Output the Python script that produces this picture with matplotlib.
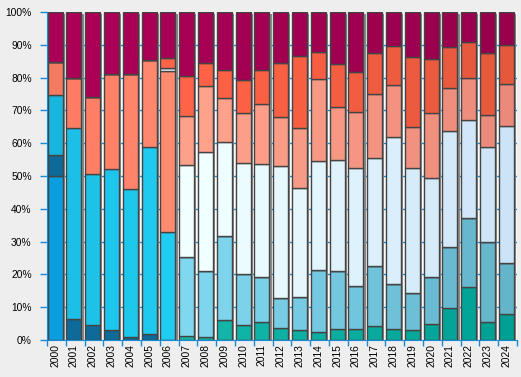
import numpy as np
import matplotlib
matplotlib.use("Agg")
import matplotlib.pyplot as plt
from matplotlib.colors import to_rgb

years = [str(y) for y in range(2000, 2025)]

# shares in percent, bottom to top
s_blue = [50.0] + [0] * 24
s_dark = [6.4, 6.3, 4.5, 3.0, 0.9, 1.7, 0.0, 1.2, 0.8, 6.0, 4.5, 5.4, 3.6,
          3.0, 2.3, 3.3, 3.3, 4.2, 3.3, 3.0, 4.8, 9.7, 16.1, 5.4, 7.8]
s_cyan = [18.3, 58.2, 46.0, 49.0, 45.2, 57.0, 32.8, 24.0, 20.1, 25.6, 15.5,
          13.7, 9.1, 10.0, 18.9, 17.6, 13.1, 18.3, 13.7, 11.2, 14.3, 18.6,
          21.0, 24.4, 15.6]
s_salmon = [10.2, 15.3, 23.7, 29.0, 34.9, 26.8, 49.1] + [0] * 18
s_white = [0, 0, 0, 0, 0, 0, 0.9, 28.1, 36.3, 28.7, 33.9, 34.5, 40.2, 33.2,
           33.3, 33.9, 35.9, 32.9, 44.8, 38.1, 30.2, 35.3, 29.9, 28.9, 41.8]
s_light = [0, 0, 0, 0, 0, 0, 0, 15.1, 20.1, 13.4, 15.2, 18.2, 15.0, 18.3,
           25.2, 16.1, 17.1, 19.5, 15.8, 12.5, 19.8, 13.1, 12.8, 9.8, 13.0]
s_orange = [0, 0, 0, 0, 0, 0, 3.3, 12.2, 7.1, 8.5, 10.1, 10.4, 16.5, 22.2,
            8.2, 13.3, 12.2, 12.5, 11.9, 21.4, 16.5, 12.5, 11.0, 18.9, 11.6]
s_magenta = [15.2, 20.2, 25.8, 19.0, 19.0, 14.5, 13.9, 19.4, 15.6, 17.8, 20.8,
             17.8, 15.6, 13.3, 12.1, 15.8, 18.4, 12.6, 10.5, 13.8, 14.4, 10.8,
             9.2, 12.6, 10.2]


def ramp(c0, c1, n):
    a, b = np.array(to_rgb(c0)), np.array(to_rgb(c1))
    return [tuple(a + (b - a) * t) for t in np.linspace(0, 1, n)]


n = len(years)
c_blue = ['#0a9ee0'] * n
c_dark = ['#0e6a98'] * 7 + ramp('#14b8aa', '#00a194', 18)
c_cyan = ['#18b6de'] + ramp('#1cc0e6', '#20ccf0', 6) + ramp('#80d8f0', '#64b4ca', 18)
c_salmon = ['#f47a62'] + ramp('#ff7c64', '#ff8a70', 6) + ['#ff8a70'] * 18
c_white = ramp('#f2ffff', '#f2ffff', 8) + ramp('#f0ffff', '#cce4f8', 17)
c_light = ['#ffa08a'] * 8 + ramp('#ffa28c', '#ea8a7a', 17)
c_orange = ['#ff6448'] * 8 + ramp('#ff6246', '#e4583c', 17)
c_magenta = ['#aa0055'] + ramp('#ac0056', '#98004c', 24)

series = [(s_blue, c_blue), (s_dark, c_dark), (s_cyan, c_cyan),
          (s_salmon, c_salmon), (s_white, c_white), (s_light, c_light),
          (s_orange, c_orange), (s_magenta, c_magenta)]

totals = np.sum([np.array(s) for s, _ in series], axis=0)

fig = plt.figure(figsize=(5.21, 3.77), dpi=100, facecolor='#eeeeee')
ax = fig.add_axes([47 / 521, 37 / 377, 470 / 521, 328 / 377])
ax.set_facecolor('#f9f9f9')

x = np.arange(n)
blue = '#1a8ad4'

for v in range(10, 100, 10):
    ax.axhline(v, color=blue, lw=1, zorder=0)

# shadows
ax.bar(x + 0.15, 100, width=0.8, align='edge', bottom=-0.6,
       color='#8a8a8a', edgecolor='none', zorder=1)

bottom = np.zeros(n)
for vals, cols in series:
    pct = np.array(vals) / totals * 100
    ax.bar(x + 0.03, pct, width=0.8, align='edge', bottom=bottom,
           color=cols, edgecolor='#444444', linewidth=1, zorder=2)
    bottom += pct

ax.set_xlim(0, n)
ax.set_ylim(0, 100)

ax.set_xticks(np.arange(n + 1))
ax.set_xticklabels([])
ax.set_xticks(x + 0.43, minor=True)
ax.set_xticklabels(years, minor=True, rotation=90, fontsize=7.4,
                   family='Liberation Sans')
ax.tick_params(axis='x', which='major', direction='out', length=4,
               color=blue, width=1)
ax.tick_params(axis='x', which='minor', length=0, pad=3)

ax.set_yticks(range(0, 101, 10))
ax.set_yticklabels([f'{v}%' for v in range(0, 101, 10)], fontsize=7.4,
                   family='Liberation Sans')
ax.tick_params(axis='y', direction='out', length=5, color=blue, width=1, pad=6)

for side in ['top', 'right']:
    ax.spines[side].set_visible(False)
for side in ['left', 'bottom']:
    ax.spines[side].set_color(blue)
    ax.spines[side].set_zorder(3)

fig.savefig('out.png', dpi=100, facecolor=fig.get_facecolor())
